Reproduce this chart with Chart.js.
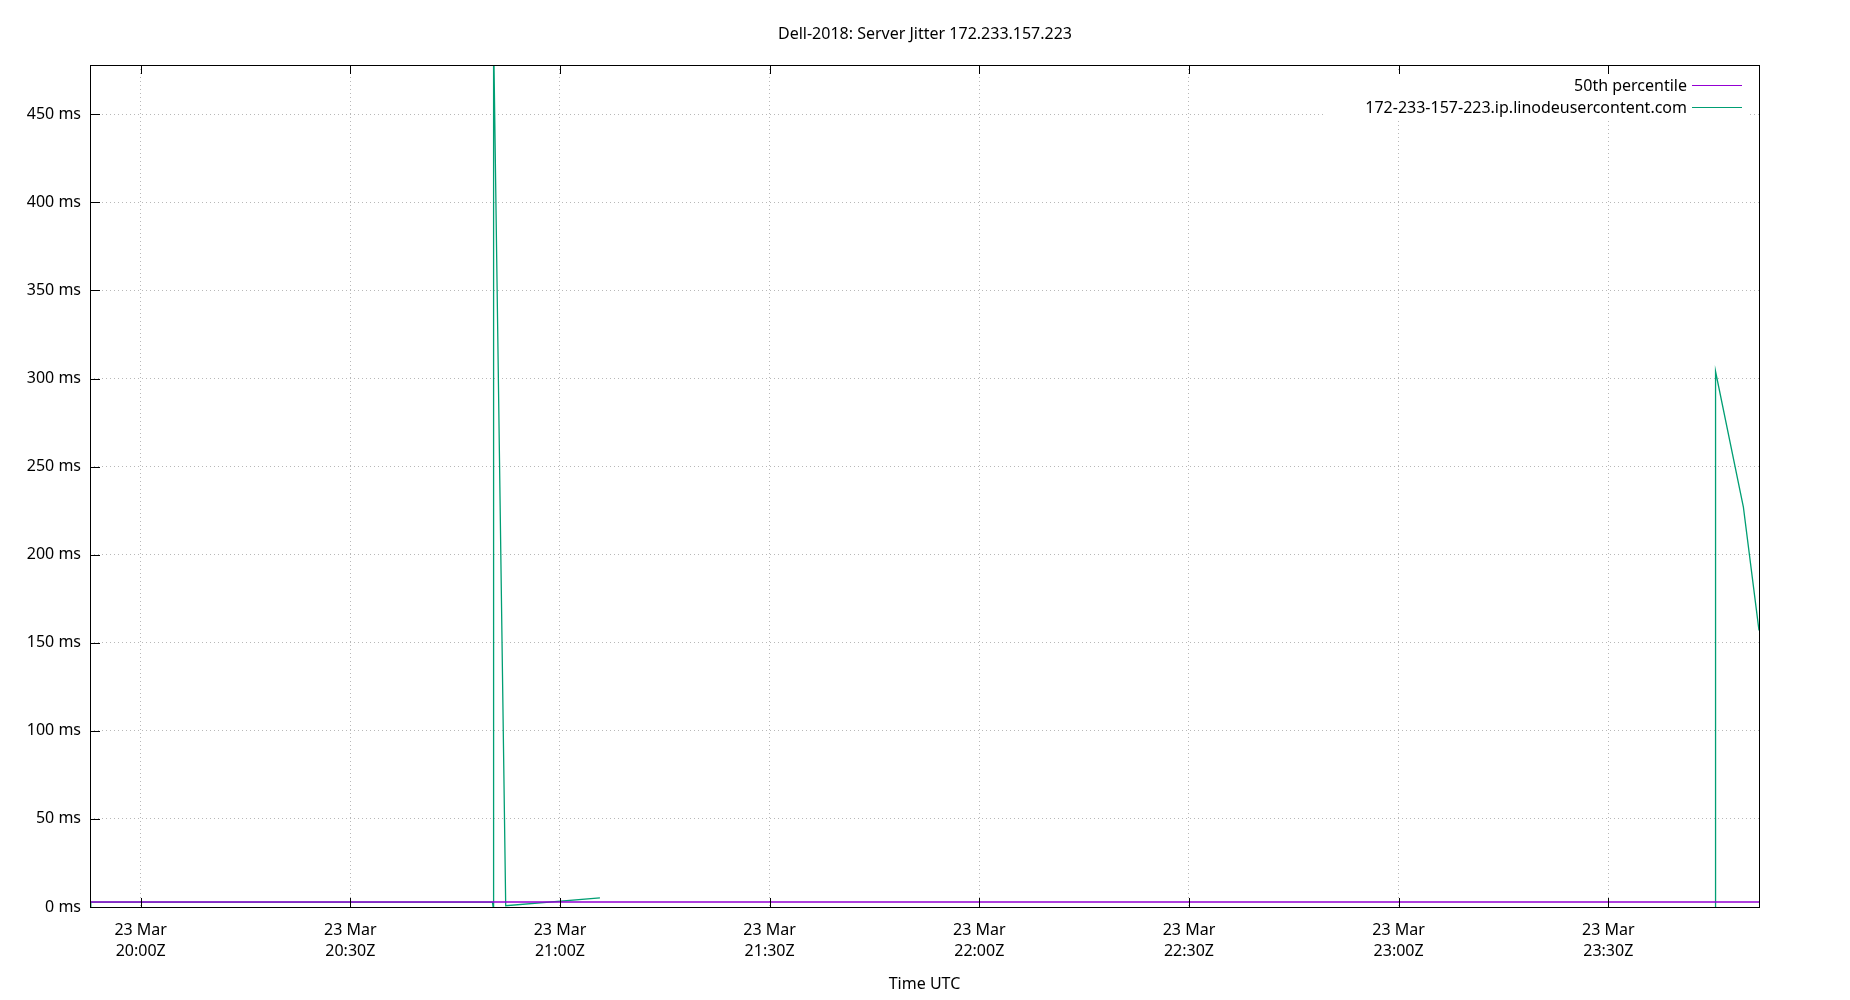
<!DOCTYPE html>
<html>
<head>
<meta charset="utf-8">
<script src="https://cdn.jsdelivr.net/npm/chart.js@4"></script>
<style>
  html, body { margin: 0; padding: 0; background: #fff; }
  canvas { display: block; }
</style>
</head>
<body>
<canvas id="chart" width="1850" height="1000"></canvas>
<script>
// ========== DATA ==========
const chartTitle = "Dell-2018: Server Jitter 172.233.157.223";
const xAxisTitle = "Time UTC";
const dayLabel = "23 Mar";
const xTickTimes = ["20:00", "20:30", "21:00", "21:30", "22:00", "22:30", "23:00", "23:30"];
const yTicks = [0, 50, 100, 150, 200, 250, 300, 350, 400, 450];
const xRange = ["19:52:45", "23:51:34"];
const yMax = 478;

const medianLabel = "50th percentile";
const medianTimes = ["19:52:45", "23:51:34"];
const medianValues = [2.8, 2.8];

const hostLabel = "172-233-157-223.ip.linodeusercontent.com";
const hostTimes = ["19:52:45", "19:52:52", "20:50:20", "20:50:26", "20:50:30", "20:52:14", "21:05:43",
                   "21:06:00", "23:45:17", "23:45:21", "23:49:20", "23:51:34"];
const hostValues = [0, 2.8, 2.8, 0, 495, 0.7, 5.2,
                    null, 0, 304, 227, 157];

// minutes after 20:00 UTC
function toMin(t) {
  const [h, m, s] = t.split(":").map(Number);
  return (h - 20) * 60 + m + (s || 0) / 60;
}

const FONT = { family: "'Noto Sans', 'Open Sans', sans-serif", size: 16 };
const GRID_COLOR = "rgba(0,0,0,0.28)";

// ========== OVERLAY (frame, ticks, key, titles) ==========
const gnuplotLook = {
  id: "gnuplotLook",
  beforeDatasetsDraw(chart) {
    const c = chart.ctx;
    c.save();
    c.fillStyle = "#fff";
    c.fillRect(1323, 70, 427, 48);
    c.restore();
  },
  afterDraw(chart) {
    const c = chart.ctx;
    const a = chart.chartArea;
    const xs = chart.scales.x, ys = chart.scales.y;
    c.save();

    // frame
    c.strokeStyle = "#000";
    c.lineWidth = 1;
    c.strokeRect(Math.round(a.left) + 0.5, Math.round(a.top) + 0.5,
                 Math.round(a.right - a.left), Math.round(a.bottom - a.top));

    // inward ticks
    c.beginPath();
    xTickTimes.forEach((t) => {
      const px = Math.round(xs.getPixelForValue(toMin(t))) + 0.5;
      c.moveTo(px, a.bottom); c.lineTo(px, a.bottom - 9);
      c.moveTo(px, a.top); c.lineTo(px, a.top + 9);
    });
    yTicks.forEach((v) => {
      const py = Math.round(ys.getPixelForValue(v)) + 0.5;
      c.moveTo(a.left, py); c.lineTo(a.left + 10, py);
    });
    c.stroke();

    // titles
    c.fillStyle = "#000";
    c.font = FONT.size + "px " + FONT.family;
    c.textAlign = "center";
    c.textBaseline = "alphabetic";
    c.fillText(chartTitle, 925, 39);
    c.fillText(xAxisTitle, (a.left + a.right) / 2, 989);

    // key, text right aligned with the sample on its right
    const rows = [
      { text: medianLabel, color: "#9400d3" },
      { text: hostLabel, color: "#009e73" },
    ];
    c.textAlign = "right";
    rows.forEach((r, i) => {
      const base = 91 + i * 22;
      c.fillStyle = "#000";
      c.fillText(r.text, 1687, base);
      c.strokeStyle = r.color;
      c.lineWidth = 1.2;
      c.beginPath();
      c.moveTo(1692, base - 5.5);
      c.lineTo(1742, base - 5.5);
      c.stroke();
    });
    c.restore();
  },
};

// ========== CHART ==========
const ctx = document.getElementById("chart");
new Chart(ctx, {
  type: "line",
  data: {
    datasets: [
      {
        label: medianLabel,
        data: medianTimes.map((t, i) => ({ x: toMin(t), y: medianValues[i] })),
        borderColor: "#9400d3",
        borderWidth: 1.5,
        pointRadius: 0,
        tension: 0,
      },
      {
        label: hostLabel,
        data: hostTimes.map((t, i) => ({ x: toMin(t), y: hostValues[i] })),
        borderColor: "#009e73",
        borderWidth: 1.3,
        pointRadius: 0,
        tension: 0,
        spanGaps: false,
      },
    ],
  },
  options: {
    responsive: false,
    animation: false,
    layout: { padding: { left: 0, top: 65, right: 91, bottom: 0 } },
    plugins: {
      legend: { display: false },
      title: { display: false },
      tooltip: { enabled: false },
    },
    scales: {
      x: {
        type: "linear",
        min: toMin(xRange[0]),
        max: toMin(xRange[1]),
        afterBuildTicks: (s) => { s.ticks = xTickTimes.map((t) => ({ value: toMin(t) })); },
        afterFit: (s) => { s.height = 93; },
        grid: { color: GRID_COLOR, lineWidth: 1, drawTicks: false },
        border: { display: false, dash: [1, 3] },
        ticks: {
          padding: 13,
          maxRotation: 0,
          autoSkip: false,
          color: "#000",
          font: { ...FONT, lineHeight: 1.3 },
          callback: (v, i) => [dayLabel, xTickTimes[i] + "Z"],
        },
      },
      y: {
        min: 0,
        max: yMax,
        afterBuildTicks: (s) => { s.ticks = yTicks.map((v) => ({ value: v })); },
        afterFit: (s) => { s.width = 90; },
        grid: { color: GRID_COLOR, lineWidth: 1, drawTicks: false },
        border: { display: false, dash: [1, 3] },
        ticks: {
          padding: 9,
          color: "#000",
          font: FONT,
          callback: (v) => v + " ms",
        },
      },
    },
  },
  plugins: [gnuplotLook],
});
</script>
</body>
</html>
